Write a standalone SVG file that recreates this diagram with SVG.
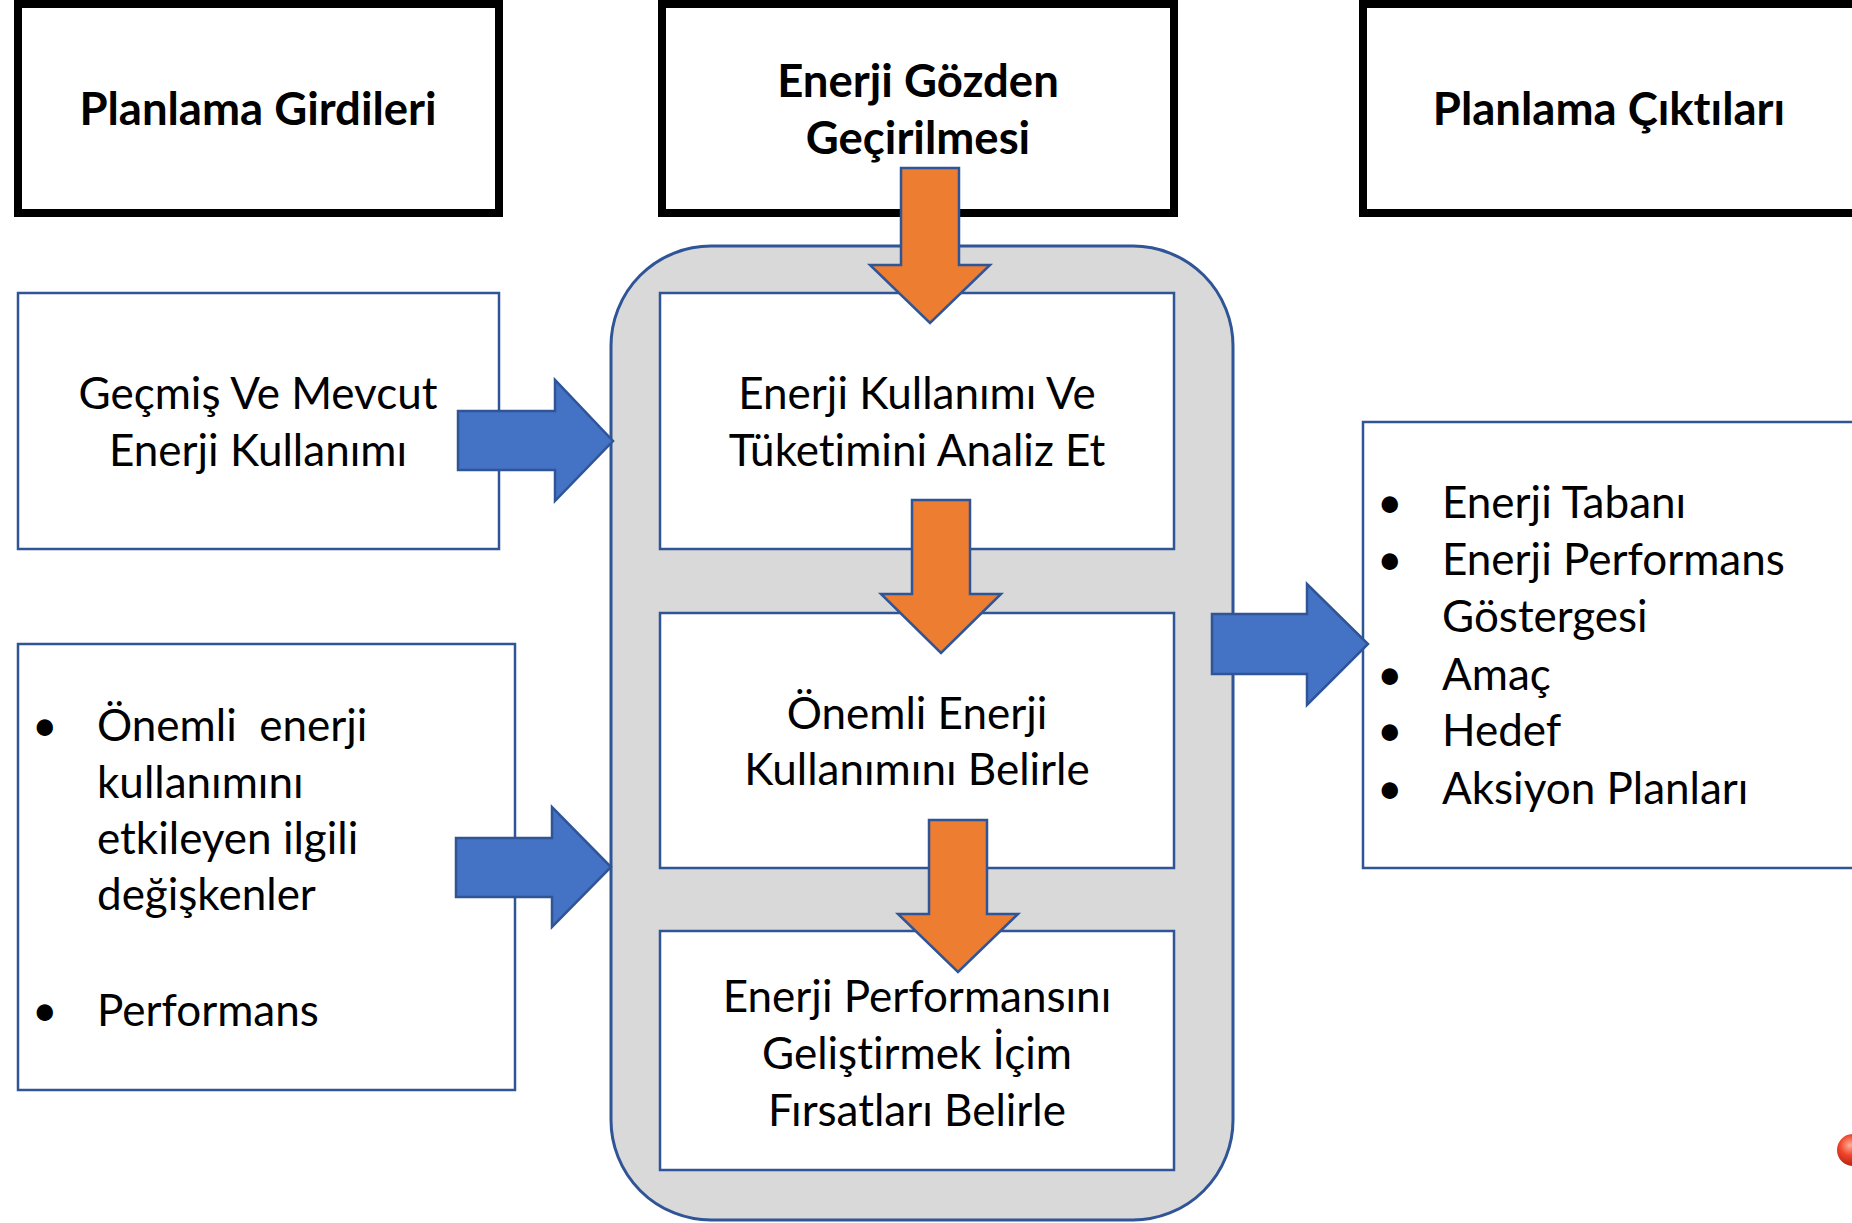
<svg xmlns="http://www.w3.org/2000/svg" width="1852" height="1223" viewBox="0 0 1852 1223">
<defs>
<style>
.hdr{fill:#fff;stroke:#000;stroke-width:8}
.box{fill:#fff;stroke:#2F5597;stroke-width:2.5}
.cont{fill:#D9D9D9;stroke:#2F5597;stroke-width:3}
.t{font-family:Lato,"Liberation Sans",sans-serif;font-size:44px;fill:#000;font-variant-ligatures:none;font-feature-settings:"liga" 0,"clig" 0}
.b{font-weight:bold;font-size:45.5px}
.c{text-anchor:middle}
.oa{fill:#ED7D31;stroke:#2F5597;stroke-width:2.5;stroke-linejoin:miter}
.ba{fill:#4472C4;stroke:#2F5597;stroke-width:2.5;stroke-linejoin:miter}
</style>
<radialGradient id="sph" cx="0.4" cy="0.35" r="0.7">
<stop offset="0" stop-color="#FFB199"/>
<stop offset="0.45" stop-color="#F0442A"/>
<stop offset="1" stop-color="#B01E0E"/>
</radialGradient>
</defs>
<rect width="1852" height="1223" fill="#fff"/>

<g id="hdr-girdiler">
<rect class="hdr" x="18" y="4" width="481" height="209"/>
<text class="t b c" x="258" y="125">Planlama Girdileri</text>
</g>
<g id="hdr-gozden">
<rect class="hdr" x="662" y="4" width="512" height="209"/>
<text class="t b c" x="918" y="97">Enerji Gözden</text>
<text class="t b c" x="918" y="154">Geçirilmesi</text>
</g>
<g id="hdr-ciktilar">
<rect class="hdr" x="1363" y="4" width="520" height="209"/>
<text class="t b c" x="1609" y="125">Planlama Çıktıları</text>
</g>

<g id="container">
<rect class="cont" x="611" y="246" width="622" height="974" rx="100" ry="100"/>
</g>

<g id="step-analiz">
<rect class="box" x="660" y="293" width="514" height="256"/>
<text class="t c" x="917" y="409">Enerji Kullanımı Ve</text>
<text class="t c" x="917" y="466">Tüketimini Analiz Et</text>
</g>
<g id="step-onemli">
<rect class="box" x="660" y="613" width="514" height="255"/>
<text class="t c" x="917" y="729">Önemli Enerji</text>
<text class="t c" x="917" y="785">Kullanımını Belirle</text>
</g>
<g id="step-firsat">
<rect class="box" x="660" y="931" width="514" height="239"/>
<text class="t c" x="917" y="1012">Enerji Performansını</text>
<text class="t c" x="917" y="1069">Geliştirmek İçim</text>
<text class="t c" x="917" y="1126">Fırsatları Belirle</text>
</g>

<g id="in-gecmis">
<rect class="box" x="18" y="293" width="481" height="256"/>
<text class="t c" x="258" y="409">Geçmiş Ve Mevcut</text>
<text class="t c" x="258" y="466">Enerji Kullanımı</text>
</g>
<g id="in-degiskenler">
<rect class="box" x="18" y="644" width="497" height="446"/>
<text class="t" x="32" y="741">•</text>
<text class="t" x="97" y="741" xml:space="preserve">Önemli  enerji</text>
<text class="t" x="97" y="798">kullanımını</text>
<text class="t" x="97" y="854">etkileyen ilgili</text>
<text class="t" x="97" y="910">değişkenler</text>
<text class="t" x="32" y="1026">•</text>
<text class="t" x="97" y="1026">Performans</text>
</g>
<g id="out-ciktilar">
<rect class="box" x="1363" y="422" width="520" height="446"/>
<text class="t" x="1377" y="518">•</text>
<text class="t" x="1442" y="518">Enerji Tabanı</text>
<text class="t" x="1377" y="575">•</text>
<text class="t" x="1442" y="575">Enerji Performans</text>
<text class="t" x="1442" y="632">Göstergesi</text>
<text class="t" x="1377" y="690">•</text>
<text class="t" x="1442" y="690">Amaç</text>
<text class="t" x="1377" y="746">•</text>
<text class="t" x="1442" y="746">Hedef</text>
<text class="t" x="1377" y="804">•</text>
<text class="t" x="1442" y="804">Aksiyon Planları</text>
</g>

<g id="connectors">
<polygon class="oa" points="901,168 959,168 959,265 990,265 930,323 870,265 901,265"/>
<polygon class="oa" points="912,500 970,500 970,594 1001,594 941,653 881,594 912,594"/>
<polygon class="oa" points="929,820 987,820 987,914 1018,914 958,972 898,914 929,914"/>
<polygon class="ba" points="458,411 555,411 555,380 613,441 555,501 555,470 458,470"/>
<polygon class="ba" points="456,838 552,838 552,807 611,867 552,927 552,897 456,897"/>
<polygon class="ba" points="1212,614 1307,614 1307,584 1368,644 1307,705 1307,674 1212,674"/>
</g>

<circle cx="1853" cy="1150" r="16" fill="url(#sph)"/>
</svg>
